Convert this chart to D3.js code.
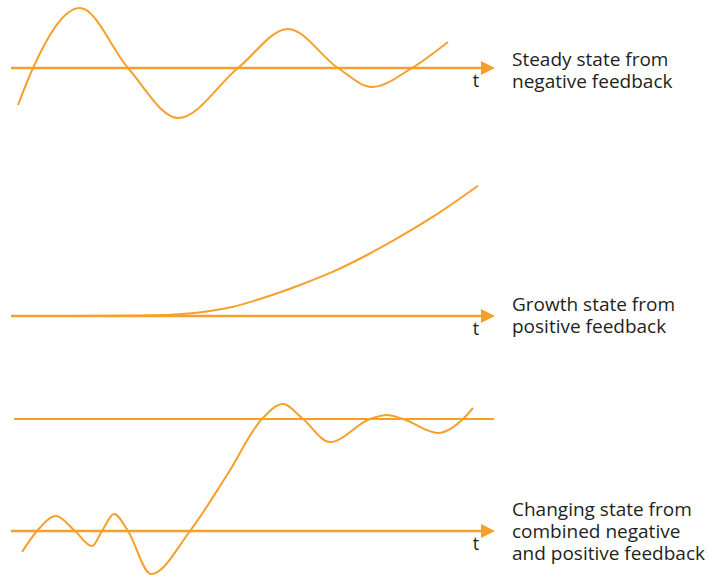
<!DOCTYPE html>
<html>
<head>
<meta charset="utf-8">
<script src="https://cdn.jsdelivr.net/npm/d3@7"></script>
<style>
  html, body { margin: 0; padding: 0; background: #fff; }
  text { font-family: "Open Sans", "Noto Sans", sans-serif; }
</style>
</head>
<body>
<div id="container"></div>
<script>
const width = 710, height = 578;
const orange = "#f6a02c";
const ink = "#231f20";

// Data. t runs 0..484 along each axis,
// v is the signal height above that panel's axis (same units as t).
const steadyT = [7, 22, 69, 117, 167, 227, 277, 327, 361, 401, 437];
const steadyV = [-37, 0, 60, 0, -50, 0, 39, 0, -19, 0, 26];

const growthT = [0, 60, 132, 160, 186, 222, 256, 289, 322, 356, 389, 422, 467];
const growthV = [0, 0, 0.6, 1.3, 3.3, 9.3, 19.3, 31, 44.3, 61, 79.3, 99.3, 130.3];

// Combined panel: v is measured from the lower (t) axis; the upper line is the new level
const changeT = [11, 26, 45, 64, 81, 91, 103, 117, 140, 179, 216, 251, 272, 292, 319, 359, 376, 392, 427, 452, 462];
const changeV = [-21, 0, 15, 0, -15, 0, 17, 0, -43, 0, 56, 112, 127, 112, 89, 112, 116, 112, 98, 112, 123];
const changeLevel = 112;

const panels = [
  { axisY: 68, labelY: 66, lines: ["Steady state from", "negative feedback"] },
  { axisY: 316, labelY: 311, lines: ["Growth state from", "positive feedback"] },
  { axisY: 531, labelY: 516, lines: ["Changing state from", "combined negative", "and positive feedback"] },
];

const svg = d3.select("#container").append("svg")
  .attr("width", width).attr("height", height);

const defs = svg.append("defs");
defs.append("marker")
  .attr("id", "arrow")
  .attr("viewBox", "0 0 14 14")
  .attr("refX", 0).attr("refY", 7)
  .attr("markerWidth", 14).attr("markerHeight", 14)
  .attr("markerUnits", "userSpaceOnUse")
  .attr("orient", "auto")
  .append("path")
  .attr("d", "M0,0 L14,7 L0,14 Z")
  .attr("fill", orange);

const x = d3.scaleLinear().domain([0, 484]).range([11, 495]);

function yFor(axisY) {
  return d3.scaleLinear().domain([0, 100]).range([axisY, axisY - 100]);
}

const line = (ys, curve) => d3.line()
  .x((d) => x(d[0]))
  .y((d) => ys(d[1]))
  .curve(curve);

// axes with arrowheads, labels
panels.forEach((p) => {
  svg.append("line")
    .attr("x1", x(0)).attr("x2", x(470))
    .attr("y1", p.axisY).attr("y2", p.axisY)
    .attr("stroke", orange).attr("stroke-width", 2.6)
    .attr("marker-end", "url(#arrow)");

  svg.append("text")
    .attr("x", 476).attr("y", p.axisY + 19)
    .attr("text-anchor", "middle")
    .attr("fill", ink)
    .style("font-size", "18px")
    .text("t");

  const lab = svg.append("text")
    .attr("x", 512).attr("y", p.labelY)
    .attr("fill", ink)
    .style("font-size", "19px");
  p.lines.forEach((s, i) => {
    lab.append("tspan").attr("x", 512).attr("dy", i === 0 ? 0 : 22).text(s);
  });
});

// Panel 1 — damped oscillation
const y1 = yFor(panels[0].axisY);
svg.append("path")
  .datum(d3.zip(steadyT, steadyV))
  .attr("d", line(y1, d3.curveMonotoneX))
  .attr("fill", "none").attr("stroke", orange).attr("stroke-width", 2);

// Panel 2 — exponential growth
const y2 = yFor(panels[1].axisY);
svg.append("path")
  .datum(d3.zip(growthT, growthV))
  .attr("d", line(y2, d3.curveMonotoneX))
  .attr("fill", "none").attr("stroke", orange).attr("stroke-width", 2);

// Panel 3 — new level line + transition
const y3 = yFor(panels[2].axisY);
svg.append("line")
  .attr("x1", x(3)).attr("x2", x(483))
  .attr("y1", y3(changeLevel)).attr("y2", y3(changeLevel))
  .attr("stroke", orange).attr("stroke-width", 2);

svg.append("path")
  .datum(d3.zip(changeT, changeV))
  .attr("d", line(y3, d3.curveMonotoneX))
  .attr("fill", "none").attr("stroke", orange).attr("stroke-width", 2);
</script>
</body>
</html>
